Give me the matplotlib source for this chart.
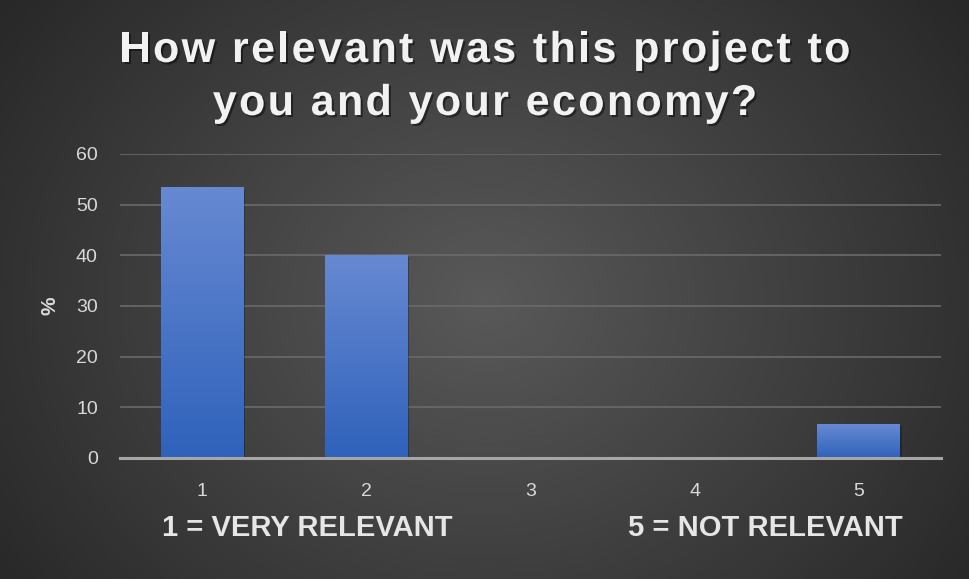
import numpy as np
import matplotlib
matplotlib.use("Agg")
import matplotlib.pyplot as plt
import matplotlib.patheffects as pe
from matplotlib.colors import LinearSegmentedColormap

categories = ["1", "2", "3", "4", "5"]
values = [53.33, 40.0, 0.0, 0.0, 6.67]
y_ticks = [0, 10, 20, 30, 40, 50, 60]
title_lines = ["How relevant was this project to", "you and your economy?"]
left_note = "1 = VERY RELEVANT"
right_note = "5 = NOT RELEVANT"

plt.rcParams['font.family'] = ['Liberation Sans', 'DejaVu Sans']

W, H = 970, 579
fig = plt.figure(figsize=(W / 100, H / 100), dpi=100)

# radial dark background
bg = fig.add_axes([0, 0, 1, 1], zorder=-10)
yy, xx = np.mgrid[0:H, 0:W]
r = np.sqrt(((xx - 485) / 620.0) ** 2 + ((yy - 300) / 520.0) ** 2)
bg_cmap = LinearSegmentedColormap.from_list("bg", ["#595959", "#262626"])
bg.imshow(np.clip(r, 0, 1), cmap=bg_cmap, vmin=0, vmax=1, aspect="auto",
          extent=[0, 1, 0, 1], interpolation="bilinear")
bg.set_axis_off()

ax = fig.add_axes([120 / W, 1 - 458 / H, 821 / W, 304 / H])
ax.patch.set_alpha(0)

x = np.arange(len(categories))
bar_w = 0.505
bar_cmap = LinearSegmentedColormap.from_list("bar", ["#2f62bb", "#6789d2"])
grad = np.linspace(0, 1, 256).reshape(-1, 1)
for xi, v in zip(x, values):
    if v <= 0:
        continue
    # soft shadow behind the bar
    ax.bar(xi + 0.01, v, width=bar_w, bottom=-0.4, color="black", alpha=0.25,
           zorder=2)
    ax.imshow(grad, cmap=bar_cmap, origin="lower", aspect="auto",
              extent=[xi - bar_w / 2, xi + bar_w / 2, 0, v], zorder=3)

ax.set_xlim(-0.5, len(categories) - 0.5)
ax.set_ylim(0, 60)
ax.set_yticks(y_ticks)
ax.set_xticks(x, categories)
ax.yaxis.grid(True, color="#6a6a6a", linewidth=1.2)
ax.set_axisbelow(True)
for s in ["top", "right", "left"]:
    ax.spines[s].set_visible(False)
ax.spines["bottom"].set_color("#a6a6a6")
ax.spines["bottom"].set_linewidth(2.2)
ax.spines["bottom"].set_zorder(4)
ax.tick_params(axis="both", length=0, colors="#d9d9d9", labelsize=14)
ax.tick_params(axis="x", pad=18)
ax.tick_params(axis="y", pad=16)
ax.set_ylabel("%", color="#d9d9d9", fontsize=15, fontweight="bold")
ax.yaxis.set_label_coords(-0.074, 0.5)

# title drawn letter by letter to get the wide tracking
shadow = [pe.withSimplePatchShadow(offset=(1.5, -1.5), shadow_rgbFace="black", alpha=0.45)]
renderer = fig.canvas.get_renderer()
title_size = 31
tracking = 2.4  # extra pixels between letters
baselines = [62, 115]
for line, base in zip(title_lines, baselines):
    widths = []
    for ch in line:
        t = fig.text(0, 0, ch if ch != " " else "a a", fontsize=title_size,
                     fontweight="bold")
        wch = t.get_window_extent(renderer).width
        if ch == " ":
            t2 = fig.text(0, 0, "aa", fontsize=title_size, fontweight="bold")
            wch -= t2.get_window_extent(renderer).width
            t2.remove()
        t.remove()
        widths.append(wch)
    total = sum(widths) + tracking * (len(line) - 1)
    xpos = W / 2 - total / 2
    for ch, wch in zip(line, widths):
        if ch != " ":
            fig.text(xpos / W, 1 - base / H, ch, ha="left", va="baseline",
                     fontsize=title_size, fontweight="bold", color="#f2f2f2",
                     path_effects=shadow)
        xpos += wch + tracking

fig.text(307 / W, 1 - 528 / H, left_note, ha="center", va="center",
         fontsize=21, fontweight="bold", color="#e6e6e6")
fig.text(765 / W, 1 - 528 / H, right_note, ha="center", va="center",
         fontsize=21, fontweight="bold", color="#e6e6e6")

fig.savefig("out.png", dpi=100)
